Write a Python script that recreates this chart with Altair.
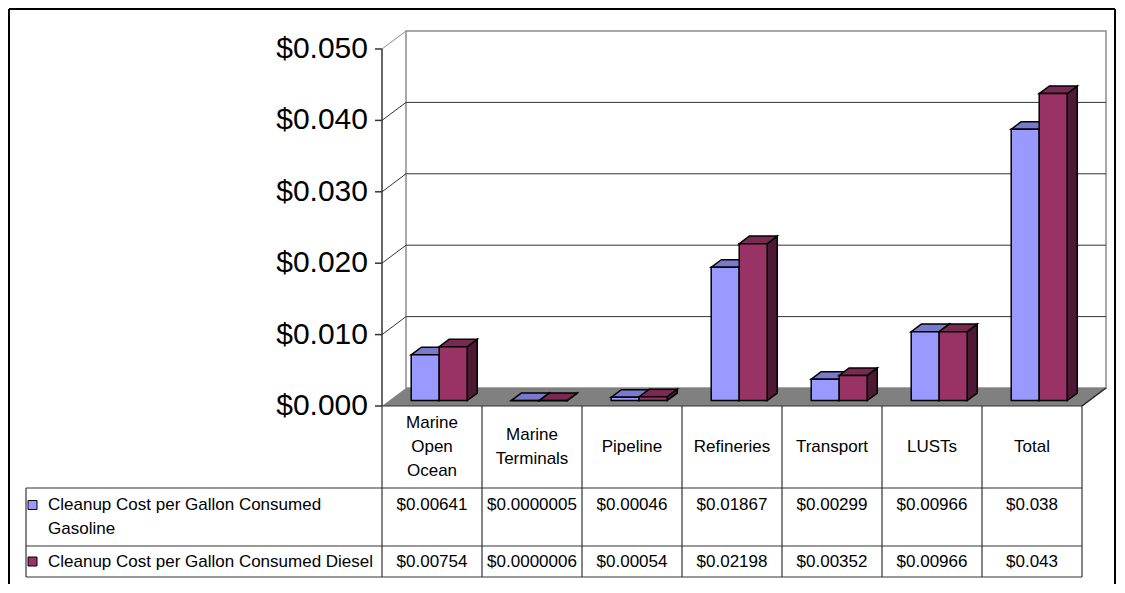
import textwrap
import numpy as np
import pandas as pd
import altair as alt

# ---------------- data ----------------
categories = ["Marine Open Ocean", "Marine Terminals", "Pipeline", "Refineries",
              "Transport", "LUSTs", "Total"]
category_labels = ["Marine\nOpen\nOcean", "Marine\nTerminals", "Pipeline", "Refineries",
                   "Transport", "LUSTs", "Total"]
series_names = ["Cleanup Cost per Gallon Consumed Gasoline",
                "Cleanup Cost per Gallon Consumed Diesel"]
gasoline = [0.00641, 0.0000005, 0.00046, 0.01867, 0.00299, 0.00966, 0.038]
diesel = [0.00754, 0.0000006, 0.00054, 0.02198, 0.00352, 0.00966, 0.043]
y_ticks = [0.0, 0.01, 0.02, 0.03, 0.04, 0.05]

# ---------------- styles / projection ----------------
FRONT = ["#9999FF", "#993366"]
TOP = ["#7A7ACC", "#7A2952"]
SIDE = ["#4D4D80", "#4D1A33"]
FONT = "Liberation Sans"
TABLE_FS = 17
LINE_H = 24
W, H = 1108, 576
NCAT = len(categories)
YMAX = y_ticks[-1]
X_SCALE = alt.Scale(domain=[-1, 0, NCAT], range=[18, 374, 1074], nice=False, zero=False)
Y_SCALE = alt.Scale(domain=[0, YMAX], range=[398, 41], nice=False, zero=False)
T_SCALE = alt.Scale(domain=[0, 1, 2, 3], range=[398, 480, 538, 569], nice=False, zero=False)
DEPTH_X = 0.24                 # full floor depth, category units
DEPTH_Y = YMAX * 18 / 357      # full floor depth, value units
GAP, BW = 0.22, 0.28           # gap before first bar, bar width (category units)
ZF, ZB = 0.30, 0.72            # bar front / back depth fraction


def X(f, **kw):
    return alt.X(f, type="quantitative", scale=X_SCALE, axis=None, **kw)


def Y(f, **kw):
    return alt.Y(f, type="quantitative", scale=Y_SCALE, axis=None, **kw)


def TY(f, **kw):
    return alt.Y(f, type="quantitative", scale=T_SCALE, axis=None, **kw)


series_values = [gasoline, diesel]
fronts, tops, sides = [], [], []
for s, vals in enumerate(series_values):
    for i, v in enumerate(vals):
        key = f"{s}-{i}"
        left = i + GAP + s * BW
        fronts.append(dict(series=series_names[s], key=key,
                           x0=left + ZF * DEPTH_X, x1=left + BW + ZF * DEPTH_X,
                           y0=ZF * DEPTH_Y, y1=v + ZF * DEPTH_Y))
        for z in (ZF, ZB):
            tops.append(dict(series=series_names[s], key=key, y=v + z * DEPTH_Y,
                             xa=left + z * DEPTH_X, xb=left + BW + z * DEPTH_X))
            sides.append(dict(series=series_names[s], key=key, x=left + BW + z * DEPTH_X,
                              ya=v + z * DEPTH_Y, yb=z * DEPTH_Y))
fronts = pd.DataFrame(fronts)
tops = pd.DataFrame(tops)
sides = pd.DataFrame(sides)

ticks_df = pd.DataFrame({"v": y_ticks})
ticks_df["x0"] = 0.0
ticks_df["xb"] = DEPTH_X
ticks_df["xe"] = NCAT + DEPTH_X
ticks_df["vb"] = ticks_df["v"] + DEPTH_Y
ticks_df["diag"] = np.where(ticks_df["v"] >= YMAX, "#8C8C8C", "#333333")

wall = pd.DataFrame({"x0": [DEPTH_X], "x1": [NCAT + DEPTH_X],
                     "y0": [DEPTH_Y], "y1": [YMAX + DEPTH_Y]})
floor = pd.DataFrame({"y": [0.0, DEPTH_Y], "xa": [0.0, DEPTH_X],
                      "xb": [float(NCAT), NCAT + DEPTH_X]})
floor_edge = pd.DataFrame({"x0": [float(NCAT)], "x1": [NCAT + DEPTH_X],
                           "y0": [0.0], "y1": [DEPTH_Y]})
axis_line = pd.DataFrame({"x": [0.0], "y0": [0.0], "y1": [YMAX]})

series_labels = [textwrap.fill(n, 39) for n in series_names]
series_df = pd.DataFrame({"series": series_names,
                          "label": series_labels,
                          "nlines": [lab.count("\n") + 1 for lab in series_labels],
                          "row": [1.5, 2.5], "x": [-1.0, -1.0]})
cells = []
for s, vals in enumerate(series_values):
    for i, v in enumerate(vals):
        cells.append(dict(series=series_names[s], x=i + 0.5, row=s + 1.5,
                          txt="$" + np.format_float_positional(v, trim="-")))
cells = pd.DataFrame(cells)
header = pd.DataFrame({"x": [i + 0.5 for i in range(NCAT)], "row": 0.5,
                       "label": category_labels,
                       "nlines": [lab.count("\n") + 1 for lab in category_labels]})
hlines = pd.DataFrame({"row": [0, 1, 2, 3], "x0": [0.0, -1.0, -1.0, -1.0],
                       "x1": [float(NCAT)] * 4})
vlines = pd.DataFrame({"x": [-1.0] + [float(i) for i in range(NCAT + 1)],
                       "r0": [1] + [0] * (NCAT + 1), "r1": [3] * (NCAT + 2)})

fill_front = alt.Fill("series:N", scale=alt.Scale(domain=series_names, range=FRONT), legend=None)
fill_top = alt.Fill("series:N", scale=alt.Scale(domain=series_names, range=TOP), legend=None)
fill_side = alt.Fill("series:N", scale=alt.Scale(domain=series_names, range=SIDE), legend=None)

layers = []
# outer frame
frame = alt.Chart(pd.DataFrame({"a": [0]}))
layers.append(frame.mark_rule(color="black", strokeWidth=2).encode(
    x=alt.value(1), x2=alt.value(W - 1), y=alt.value(1)))
layers.append(frame.mark_rule(color="black", strokeWidth=2).encode(
    x=alt.value(1), y=alt.value(1), y2=alt.value(H)))
layers.append(frame.mark_rule(color="black", strokeWidth=2).encode(
    x=alt.value(W - 1), y=alt.value(1), y2=alt.value(H)))

# back wall
layers.append(alt.Chart(wall).mark_rect(fill="white", stroke="#8C8C8C", strokeWidth=1.5).encode(
    x=X("x0"), x2="x1", y=Y("y0"), y2="y1"))
# back gridlines
layers.append(alt.Chart(ticks_df).transform_filter(
    (alt.datum.v > 0) & (alt.datum.v < YMAX)).mark_rule(color="#333333", strokeWidth=1).encode(
    x=X("xb"), x2="xe", y=Y("vb")))
# side-wall diagonals
layers.append(alt.Chart(ticks_df).transform_filter(alt.datum.v > 0).mark_rule(strokeWidth=1).encode(
    x=X("x0"), x2="xb", y=Y("v"), y2="vb", color=alt.Color("diag:N", scale=None)))
# floor
layers.append(alt.Chart(floor).mark_area(orient="horizontal", color="#808080").encode(
    y=Y("y"), x=X("xa"), x2="xb"))
layers.append(alt.Chart(floor_edge).mark_rule(color="#222222", strokeWidth=1.5).encode(
    x=X("x0"), x2="x1", y=Y("y0"), y2="y1"))
# y axis
layers.append(alt.Chart(axis_line).mark_rule(color="#333333", strokeWidth=1.5).encode(
    x=X("x"), y=Y("y0"), y2="y1"))
layers.append(alt.Chart(ticks_df).mark_rule(color="#333333", strokeWidth=1.5, xOffset=-7).encode(
    x=X("x0"), x2="x0", y=Y("v")))
layers.append(alt.Chart(ticks_df).mark_text(align="right", baseline="middle", dx=-14,
                                            font=FONT, fontSize=30, color="black").encode(
    x=X("x0"), y=Y("v"), text=alt.Text("v:Q", format="$.3f")))

# bars
layers.append(alt.Chart(sides).mark_area(orient="vertical", stroke="black", strokeWidth=1.5).encode(
    x=X("x"), y=Y("ya"), y2="yb", detail="key:N", fill=fill_side))
layers.append(alt.Chart(tops).mark_area(orient="horizontal", stroke="black", strokeWidth=1.5).encode(
    y=Y("y"), x=X("xa"), x2="xb", detail="key:N", fill=fill_top))
layers.append(alt.Chart(fronts).mark_rect(stroke="black", strokeWidth=1.5).encode(
    x=X("x0"), x2="x1", y=Y("y0"), y2="y1", fill=fill_front))

# data table
layers.append(alt.Chart(hlines).mark_rule(color="#333333", strokeWidth=1.2).encode(
    x=X("x0"), x2="x1", y=TY("row")))
layers.append(alt.Chart(vlines).mark_rule(color="#333333", strokeWidth=1.2).encode(
    x=X("x"), y=TY("r0"), y2="r1"))
# header labels: multi-line blocks centred vertically in the header row
for n in sorted(set(header["nlines"])):
    layers.append(alt.Chart(header).transform_filter(alt.datum.nlines == n).mark_text(
        align="center", baseline="middle", lineBreak="\n", lineHeight=LINE_H,
        dy=-(n - 1) * LINE_H / 2, font=FONT, fontSize=TABLE_FS, color="black").encode(
        x=X("x"), y=TY("row"), text="label:N"))
# series labels
for n in sorted(set(series_df["nlines"])):
    layers.append(alt.Chart(series_df).transform_filter(alt.datum.nlines == n).mark_text(
        align="left", baseline="middle", lineBreak="\n", lineHeight=LINE_H,
        dx=22, dy=-(n - 1) * LINE_H / 2, font=FONT, fontSize=TABLE_FS, color="black").encode(
        x=X("x"), y=TY("row"), text="label:N"))
    layers.append(alt.Chart(series_df).transform_filter(alt.datum.nlines == n).mark_point(
        shape="square", size=81, filled=True, opacity=1, stroke="black", strokeWidth=1,
        xOffset=6.5, yOffset=-(n - 1) * LINE_H / 2).encode(
        x=X("x"), y=TY("row"), fill=fill_front))
# cell values (top-aligned with first label line)
for n, sname in zip(series_df["nlines"], series_names):
    layers.append(alt.Chart(cells).transform_filter(alt.datum.series == sname).mark_text(
        align="center", baseline="middle", dy=-(n - 1) * LINE_H / 2,
        font=FONT, fontSize=TABLE_FS, color="black").encode(
        x=X("x"), y=TY("row"), text="txt:N"))

chart = alt.layer(*layers).resolve_scale(
    x="independent", y="independent", fill="independent", color="independent"
).properties(
    width=W, height=H, padding=0, autosize=alt.AutoSizeParams(type="none")
).configure_view(stroke=None)

chart.save("out.html", embed_options={"renderer": "svg", "actions": False})
